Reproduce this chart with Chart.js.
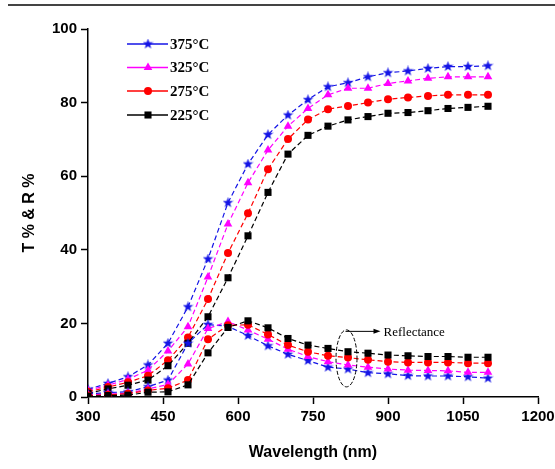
<!DOCTYPE html>
<html>
<head>
<meta charset="utf-8">
<script src="https://cdn.jsdelivr.net/npm/chart.js@4"></script>
<style>
body { margin: 0; background: #fff; }
canvas { display: block; }
</style>
</head>
<body>
<canvas id="chart" width="555" height="469"></canvas>
<script>
// Wavelength (nm)
const wavelength = [300, 340, 380, 420, 460, 500, 540, 580, 620, 660, 700, 740, 780, 820, 860, 900, 940, 980, 1020, 1060, 1100];

// Transmittance (%)
const t375 = [2.1, 3.7, 5.5, 8.7, 14.6, 24.5, 37.5, 52.8, 63.3, 71.3, 76.6, 80.8, 84.3, 85.4, 87.0, 88.1, 88.6, 89.3, 89.8, 89.8, 90.0];
const t325 = [1.8, 3.2, 4.8, 7.3, 12.5, 19.1, 32.6, 47.0, 58.2, 67.1, 73.6, 78.4, 82.1, 83.9, 83.9, 85.2, 85.9, 86.6, 87.0, 87.0, 87.0];
const t275 = [1.4, 2.7, 4.0, 5.8, 10.0, 16.2, 26.6, 39.1, 49.9, 61.9, 70.1, 75.4, 78.2, 79.1, 80.0, 80.9, 81.4, 81.8, 82.1, 82.1, 82.1];
const t225 = [1.0, 2.2, 3.2, 4.6, 8.5, 14.6, 21.8, 32.4, 43.8, 55.6, 66.0, 71.1, 73.6, 75.3, 76.2, 77.1, 77.3, 77.8, 78.4, 78.7, 79.0];

// Reflectance (%)
const r375 = [0.8, 1.2, 1.4, 2.8, 4.6, 14.6, 19.7, 19.2, 16.7, 13.9, 11.6, 9.9, 8.1, 7.6, 6.6, 6.3, 5.8, 5.7, 5.7, 5.5, 5.1];
const r325 = [0.6, 0.8, 1.0, 2.2, 3.4, 9.0, 18.6, 20.5, 18.2, 15.7, 13.0, 11.0, 9.6, 8.7, 8.1, 7.6, 7.3, 7.2, 7.1, 6.7, 6.7];
const r275 = [0.4, 0.6, 0.9, 1.8, 2.4, 4.6, 15.7, 19.5, 19.6, 17.0, 14.1, 12.3, 11.2, 10.7, 10.1, 9.6, 9.4, 9.4, 9.4, 9.2, 9.2];
const r225 = [0.2, 0.4, 0.5, 1.3, 1.4, 3.3, 12.0, 18.9, 20.7, 18.8, 15.9, 14.1, 13.2, 12.3, 11.9, 11.4, 11.2, 11.0, 11.0, 10.8, 10.8];

const seriesLabels = ['375°C', '325°C', '275°C', '225°C'];

// filled five-point star used as a marker
function makeStar(color, size) {
    const c = document.createElement('canvas');
    c.width = size;
    c.height = size;
    const g = c.getContext('2d');
    const cx = size / 2, cy = size / 2, ro = size / 2, ri = ro * 0.42;
    g.beginPath();
    for (let i = 0; i < 10; i++) {
        const r = i % 2 === 0 ? ro : ri;
        const a = -Math.PI / 2 + i * Math.PI / 5;
        g.lineTo(cx + r * Math.cos(a), cy + r * Math.sin(a));
    }
    g.closePath();
    g.fillStyle = color;
    g.fill();
    return c;
}

const starImg = makeStar('#1414e6', 11);

const styles = [
    { color: '#1414e6', pointStyle: starImg, radius: 5 },
    { color: '#ff00ff', pointStyle: 'triangle', radius: 5 },
    { color: '#ff0000', pointStyle: 'circle', radius: 4 },
    { color: '#000000', pointStyle: 'rect', radius: 5 }
];

function toPoints(arr) {
    return wavelength.map((x, i) => ({ x: x, y: arr[i] }));
}

function makeDataset(label, arr, s) {
    return {
        label: label,
        data: toPoints(arr),
        borderColor: s.color,
        backgroundColor: s.color,
        borderWidth: 1.2,
        borderDash: [5, 3],
        pointStyle: s.pointStyle,
        pointRadius: s.radius,
        pointBorderWidth: 0,
        pointBackgroundColor: s.color,
        tension: 0
    };
}

const transData = [t375, t325, t275, t225];
const reflData = [r375, r325, r275, r225];
const datasets = [];
for (let i = 3; i >= 0; i--) {
    datasets.push(makeDataset(seriesLabels[i], reflData[i], styles[i]));
}
for (let i = 3; i >= 0; i--) {
    datasets.push(makeDataset(seriesLabels[i], transData[i], styles[i]));
}

// legend, annotation and frame line drawn by hand
const extrasPlugin = {
    id: 'extras',
    beforeDraw(chart) {
        const ctx = chart.ctx;
        ctx.save();
        ctx.strokeStyle = '#444';
        ctx.lineWidth = 2;
        ctx.beginPath();
        ctx.moveTo(8, 5);
        ctx.lineTo(555, 5);
        ctx.stroke();
        ctx.restore();
    },
    afterDraw(chart) {
        const ctx = chart.ctx;
        const xs = chart.scales.x, ys = chart.scales.y;
        ctx.save();

        // legend
        const rows = [44, 67.5, 91, 115];
        for (let i = 0; i < 4; i++) {
            const s = styles[i];
            const y = rows[i];
            ctx.strokeStyle = s.color;
            ctx.lineWidth = 1.3;
            ctx.setLineDash([]);
            ctx.beginPath();
            ctx.moveTo(127, y);
            ctx.lineTo(168, y);
            ctx.stroke();
            ctx.fillStyle = s.color;
            Chart.helpers.drawPoint(ctx, { pointStyle: s.pointStyle, radius: s.radius, rotation: 0, borderWidth: 0 }, 148, y);
            ctx.fillStyle = '#000';
            ctx.font = 'bold 15px "Liberation Serif", "Times New Roman", serif';
            ctx.textAlign = 'left';
            ctx.textBaseline = 'middle';
            ctx.fillText(seriesLabels[i], 170, y + 1);
        }

        // reflectance ellipse + arrow
        const cx = xs.getPixelForValue(817);
        const cy = ys.getPixelForValue(10.5);
        ctx.strokeStyle = '#000';
        ctx.lineWidth = 1;
        ctx.setLineDash([4, 2]);
        ctx.beginPath();
        ctx.ellipse(cx, cy, 10.5, 28.5, 0, 0, Math.PI * 2);
        ctx.stroke();
        ctx.setLineDash([]);
        const ay = cy - 27;
        ctx.beginPath();
        ctx.moveTo(cx - 1, ay);
        ctx.lineTo(cx + 30, ay);
        ctx.stroke();
        ctx.fillStyle = '#000';
        ctx.beginPath();
        ctx.moveTo(cx + 34, ay);
        ctx.lineTo(cx + 27, ay - 2.5);
        ctx.lineTo(cx + 27, ay + 2.5);
        ctx.closePath();
        ctx.fill();
        ctx.font = '13px "Liberation Serif", "Times New Roman", serif';
        ctx.textAlign = 'left';
        ctx.textBaseline = 'middle';
        ctx.fillText('Reflectance', cx + 37, ay + 1);
        ctx.restore();
    }
};

const tickFont = { family: '"Liberation Sans", Arial, sans-serif', size: 15, weight: 'bold' };
const titleFont = { family: '"Liberation Sans", Arial, sans-serif', size: 16, weight: 'bold' };

new Chart(document.getElementById('chart').getContext('2d'), {
    type: 'line',
    data: { datasets: datasets },
    options: {
        responsive: false,
        animation: false,
        layout: { padding: { top: 29, right: 17, left: 0, bottom: 0 } },
        plugins: {
            legend: { display: false },
            tooltip: { enabled: false }
        },
        scales: {
            x: {
                type: 'linear',
                min: 300,
                max: 1200,
                ticks: {
                    stepSize: 150, color: '#000', font: tickFont, padding: 4, maxRotation: 0,
                    callback: function(v) { return String(v); }
                },
                grid: { drawOnChartArea: false, drawTicks: true, tickLength: 7, tickColor: '#000', tickWidth: 1.5 },
                border: { color: '#000', width: 1.5 },
                title: { display: true, text: 'Wavelength (nm)', color: '#000', font: titleFont, padding: { top: 0, bottom: 7 } },
                afterFit: function(s) {
                    s.height = 72;
                    s.paddingLeft = 0;
                    s.paddingRight = 0;
                }
            },
            y: {
                min: 0,
                max: 100,
                ticks: { stepSize: 20, color: '#000', font: tickFont, padding: 4 },
                grid: { drawOnChartArea: false, drawTicks: true, tickLength: 7, tickColor: '#000', tickWidth: 1.5 },
                border: { color: '#000', width: 1.5 },
                title: { display: true, text: 'T % & R %', color: '#000', font: titleFont, padding: { top: 20, bottom: 0 } },
                afterFit: function(s) {
                    s.width = 88;
                    s.paddingTop = 0;
                    s.paddingBottom = 0;
                }
            }
        }
    },
    plugins: [extrasPlugin]
});
</script>
</body>
</html>
